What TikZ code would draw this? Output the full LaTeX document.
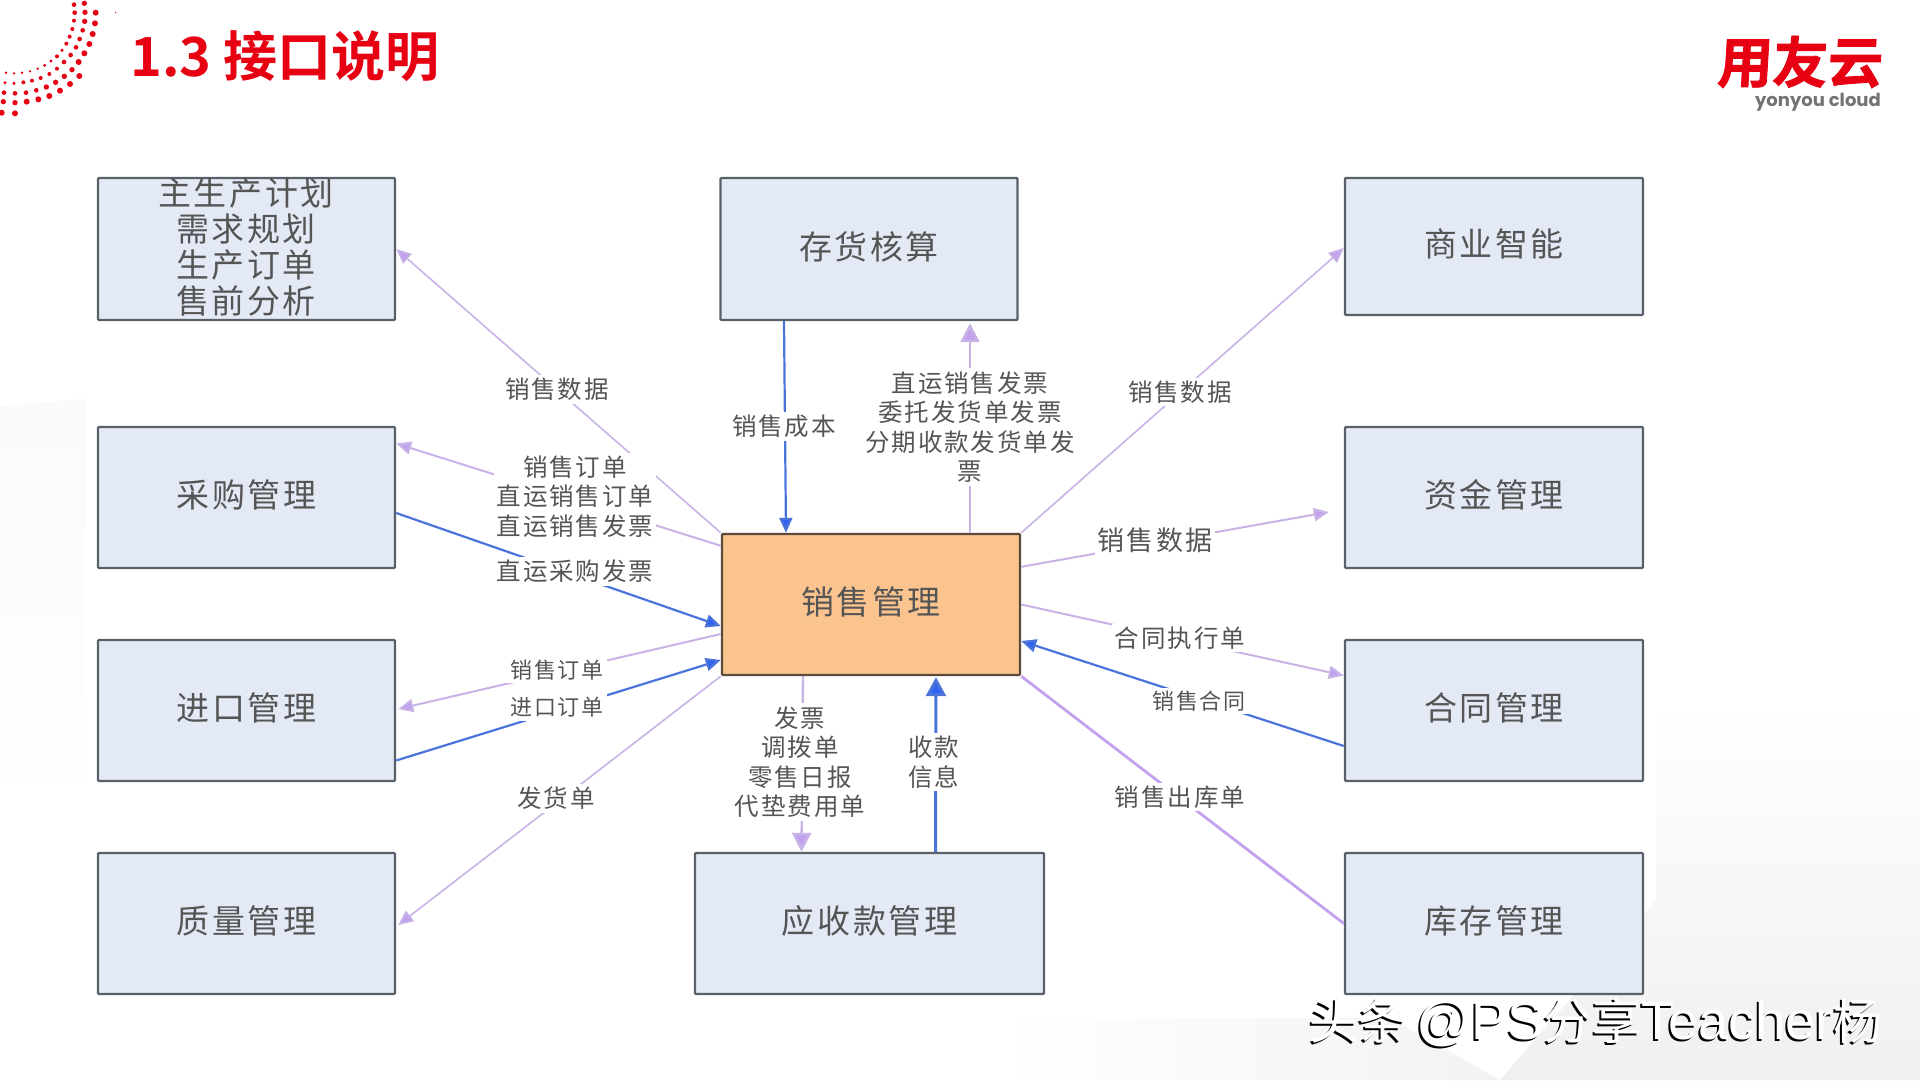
\documentclass[tikz,border=0pt]{standalone}
\usepackage{fontspec}
\usetikzlibrary{arrows.meta,calc}
\setmainfont{Liberation Sans}
\newfontfamily\cjkfont{Noto Sans CJK SC}
\newfontfamily\cjkspaced[LetterSpace=8]{Noto Sans CJK SC}
\newfontfamily\cjkboldfont[BoldFont={Noto Sans CJK SC Bold}]{Noto Sans CJK SC}
\newfontfamily\brandfont[FakeSlant=0.06,FakeBold=1.5]{Noto Sans CJK SC Bold}
\newfontfamily\logofont{Poppins}
\definecolor{boxfill}{HTML}{E4EAF5}
\definecolor{boxline}{HTML}{5A6068}
\definecolor{salesfill}{HTML}{FBC48E}
\definecolor{saleslinec}{HTML}{5C4A3A}
\definecolor{lav}{HTML}{C9B3E6}
\definecolor{lavtip}{HTML}{C2A2EE}
\definecolor{bluel}{HTML}{4A74DC}
\definecolor{bluetip}{HTML}{2F62F0}
\definecolor{inktext}{HTML}{555555}
\definecolor{brandred}{HTML}{E60012}
\newcommand{\marktext}{{\fontsize{49}{55}\selectfont\cjkfont 头条}\hspace{9pt}@PS{\fontsize{49}{55}\selectfont\cjkfont 分享}Teacher{\fontsize{49}{55}\selectfont\cjkfont 杨}}
\tikzset{
  x=1pt,y=-1pt,
  modbox/.style={draw=boxline,line width=2.4pt,fill=boxfill,rounded corners=1pt,inner sep=0pt,
    text=inktext,font=\fontsize{33}{36}\selectfont\cjkspaced,align=center,text height=25pt,text depth=5pt},
  salesbox/.style={modbox,draw=saleslinec,fill=salesfill},
  lavline/.style={draw=lav,line width=2pt,-{Triangle[length=15pt,width=13pt,fill=lavtip]}},
  lavbig/.style={draw=lav,line width=2.4pt,-{Triangle[length=19pt,width=19pt,fill=lavtip]}},
  lavplain/.style={draw=lavtip,line width=2pt},
  blueline/.style={draw=bluel,line width=2.2pt,-{Triangle[length=15pt,width=13pt,fill=bluetip]}},
  bluebig/.style={draw=bluel,line width=3pt,-{Triangle[length=19pt,width=20pt,fill=bluetip]}},
  flowlabel/.style={fill=white,inner sep=3pt,text=inktext,align=center,
    font=\fontsize{24.5}{29.5}\selectfont\cjkspaced},
}
\begin{document}
\begin{tikzpicture}
\path[use as bounding box,fill=white] (0,0) rectangle (1920,1080);
% faint background tint
\shade[top color=black!2,bottom color=white] (0,406) -- (85,399) -- (85,820) -- (0,820) -- cycle;
\shade[top color=white,bottom color=black!6] (1656,700) -- (1920,700) -- (1920,1080) -- (1500,1080) -- (1656,900) -- cycle;
\shade[left color=white,right color=black!5] (1000,1018) -- (1390,1018) -- (1500,1080) -- (1000,1080) -- cycle;
% red dotted arc
\foreach \px/\py/\pr in {287/38/9,285/70/9,278/102/9,268/132/9,253/160/9,236/186/9,238/228/9,210/252/9,180/272/9,148/288/9,115/298/9,80/305/9,45/340/9,5/338/9,
253/10/8,255/37/8,254/64/8,248/91/7,239/117/7,228/142/7,212/165/7,192/186/7,216/209/8,193/229/8,167/247/8,139/261/8,109/271/7,78/278/7,45/308/8,10/305/8,
222/14/7,224/38/7,222/62/6,217/87/6,209/110/6,199/131/6,186/151/5,171/169/6,171/206/6,148/222/6,122/234/6,96/242/6,70/247/6,45/280/7,12/278/7,
153/183/5,134/196/5,113/206/4,90/214/4,66/218/4,42/220/4,18/218/4,42/250/5,15/248/5,347/38/2}
  \fill[brandred] (\px/3,\py/3) circle[radius=\pr/3];
% title and logo
\node[anchor=west,inner sep=0pt,text=brandred,font=\fontsize{54}{60}\selectfont\bfseries\cjkboldfont] (title) at (130,56) {1.3 接口说明};
\node[anchor=east,inner sep=0pt,text=brandred,font=\fontsize{55}{60}\selectfont\brandfont] (logo) at (1882,62) {用友云};
\node[anchor=east,inner sep=0pt,text=black!55,font=\fontsize{18}{22}\selectfont\logofont\bfseries] (logosub) at (1881,102) {yonyou cloud};
% modules
\node[modbox,minimum width=297pt,minimum height=142pt] (plan) at (246.5,249) {};
\node[text=inktext,align=center,font=\fontsize{33}{36}\selectfont\cjkspaced,inner sep=0pt] (plantext) at (246,247) {主生产计划\\需求规划\\生产订单\\售前分析};
\node[modbox,minimum width=297pt,minimum height=142pt] (cost) at (869,249) {存货核算};
\node[modbox,minimum width=298pt,minimum height=137pt] (bi) at (1494,246.5) {商业智能};
\node[modbox,minimum width=297pt,minimum height=141pt] (purchase) at (246.5,497.5) {采购管理};
\node[modbox,minimum width=298pt,minimum height=141pt] (fund) at (1494,497.5) {资金管理};
\node[modbox,minimum width=297pt,minimum height=141pt] (import) at (246.5,710.5) {进口管理};
\node[modbox,minimum width=298pt,minimum height=141pt] (contract) at (1494,710.5) {合同管理};
\node[modbox,minimum width=297pt,minimum height=141pt] (quality) at (246.5,923.5) {质量管理};
\node[modbox,minimum width=298pt,minimum height=141pt] (stock) at (1494,923.5) {库存管理};
\node[modbox,minimum width=349pt,minimum height=141pt] (recv) at (869.5,923.5) {应收款管理};
\node[salesbox,minimum width=298pt,minimum height=141pt] (sales) at (871,604.5) {销售管理};
% connectors
\draw[lavline,line width=1.6pt] (sales.north west) -- (plan.east);
\draw[lavline] ([yshift=-13pt]sales.north west) -- ([yshift=54pt]purchase.east);
\draw[blueline] ([yshift=-15.5pt]purchase.east) -- ([yshift=-21.5pt]sales.west);
\draw[lavline] ([yshift=-29.5pt]sales.west) -- ([xshift=2pt,yshift=1.5pt]import.east);
\draw[blueline] ([yshift=-50pt]import.east) -- ([yshift=-55.5pt]sales.west);
\draw[lavline,line width=1.6pt] (sales.south west) -- ([xshift=2pt,yshift=-1.5pt]quality.east);
\draw[blueline] ([xshift=-85pt]cost.south) -- ([xshift=-85pt]sales.north);
\draw[lavbig] ([xshift=99pt]sales.north) -- ([xshift=101pt,yshift=-2pt]cost.south);
\node[flowlabel] (l8) at (970,427) {直运销售发票\\委托发货单发票\\分期收款发货单发\\票};
\draw[lavline,line width=1.6pt] (sales.north east) -- ([yshift=-1.5pt]bi.west);
\draw[lavline] ([yshift=-34pt]sales.north east) -- ([xshift=-15pt,yshift=-14.5pt]fund.west);
\draw[lavline] (sales.east) -- ([yshift=35pt]contract.west);
\draw[blueline] ([yshift=-35.5pt]contract.west) -- ([yshift=-36.5pt]sales.east);
\draw[lavplain,line width=2.8pt] (stock.west) -- (sales.south east);
\draw[lavbig] ([xshift=-68pt]sales.south) -- ([xshift=-68pt]recv.north);
\draw[bluebig] ([xshift=66pt]recv.north) -- ([yshift=-1pt,xshift=65pt]sales.south);
% labels
\node[flowlabel] (l1) at (557,389.5) {销售数据};
\node[flowlabel] (l2) at (575,496.5) {销售订单\\直运销售订单\\直运销售发票};
\node[flowlabel] (l3) at (575,571.5) {直运采购发票};
\node[flowlabel,font=\fontsize{22}{29}\selectfont\cjkspaced] (l4) at (557,670) {销售订单};
\node[flowlabel,font=\fontsize{22}{29}\selectfont\cjkspaced] (l5) at (557,707.5) {进口订单};
\node[flowlabel] (l6) at (556,798.5) {发货单};
\node[flowlabel] (l7) at (784,426.5) {销售成本};
\node[flowlabel] (l9) at (1180,392) {销售数据};
\node[flowlabel,font=\fontsize{27}{29}\selectfont\cjkspaced] (l10) at (1155,540) {销售数据};
\node[flowlabel] (l11) at (1180,638) {合同执行单};
\node[flowlabel,font=\fontsize{22}{29}\selectfont\cjkspaced] (l12) at (1199,701) {销售合同};
\node[flowlabel] (l13) at (1180,797) {销售出库单};
\node[flowlabel] (l14) at (800,762) {发票\\调拨单\\零售日报\\代垫费用单};
\node[flowlabel] (l15) at (934,762) {收款\\信息};
% watermark
\node[anchor=west,inner sep=0pt,text=black,font=\fontsize{54}{55}\selectfont] (markshadow) at (1307.5,1024) {\marktext};
\node[anchor=west,inner sep=0pt,text=white,font=\fontsize{54}{55}\selectfont] (mark) at (1309,1022) {\marktext};
\end{tikzpicture}
\end{document}
